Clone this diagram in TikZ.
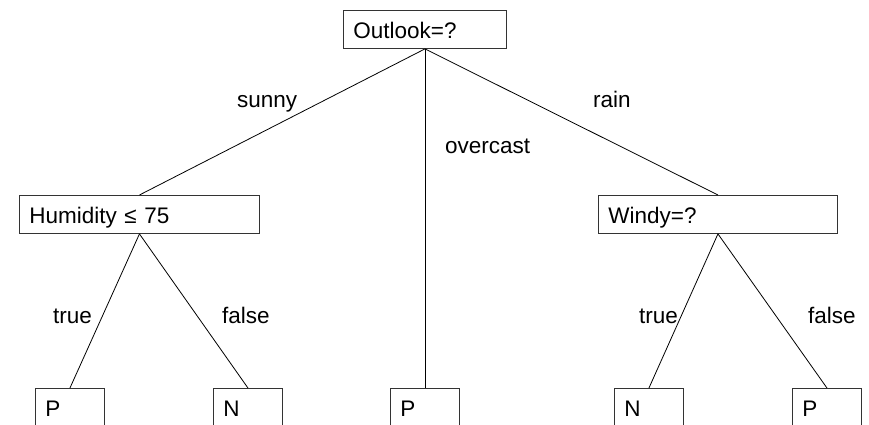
\documentclass[tikz,border=0pt]{standalone}
\usepackage{fontspec}
\setmainfont{Liberation Sans}
\begin{document}
\begin{tikzpicture}[x=1pt,y=-1pt,
  font=\fontsize{22.5}{27}\selectfont,
  box/.style={draw=black!80, line width=0.9pt, rectangle, anchor=north west,
    inner xsep=10pt, inner ysep=0pt, text height=28pt, text depth=10pt, align=left},
  leaf/.style={box, text width=49pt, text depth=30pt},
  edge/.style={draw, line width=0.8pt},
  lbl/.style={anchor=base west, inner sep=0pt}]
\useasboundingbox (0,0) rectangle (869,425);
\clip (0,0) rectangle (869,425);

% decision nodes
\node[box, text width=143pt] (outlook) at (343,10) {Outlook=?};
\node[box, text width=220pt] (humid) at (19,195) {Humidity ≤ 75};
\node[box, text width=219pt] (windy) at (598,195) {Windy=?};

% leaves
\node[leaf] (p1) at (35,388) {P};
\node[leaf] (n1) at (213,388) {N};
\node[leaf] (p2) at (390,388) {P};
\node[leaf] (n2) at (614,388) {N};
\node[leaf] (p3) at (792,388) {P};

% branches
\draw[edge] (outlook.south) -- (humid.north);
\draw[edge] (outlook.south) -- (p2.north);
\draw[edge] (outlook.south) -- (windy.north);
\draw[edge] (humid.south) -- (p1.north);
\draw[edge] (humid.south) -- (n1.north);
\draw[edge] (windy.south) -- (n2.north);
\draw[edge] (windy.south) -- (p3.north);

% branch labels
\node[lbl] (lsunny) at (237,107) {sunny};
\node[lbl] (lover) at (445,153) {overcast};
\node[lbl] (lrain) at (593,107) {rain};
\node[lbl] (lt1) at (53,323) {true};
\node[lbl] (lf1) at (222,323) {false};
\node[lbl] (lt2) at (639,323) {true};
\node[lbl] (lf2) at (808,323) {false};
\end{tikzpicture}
\end{document}
